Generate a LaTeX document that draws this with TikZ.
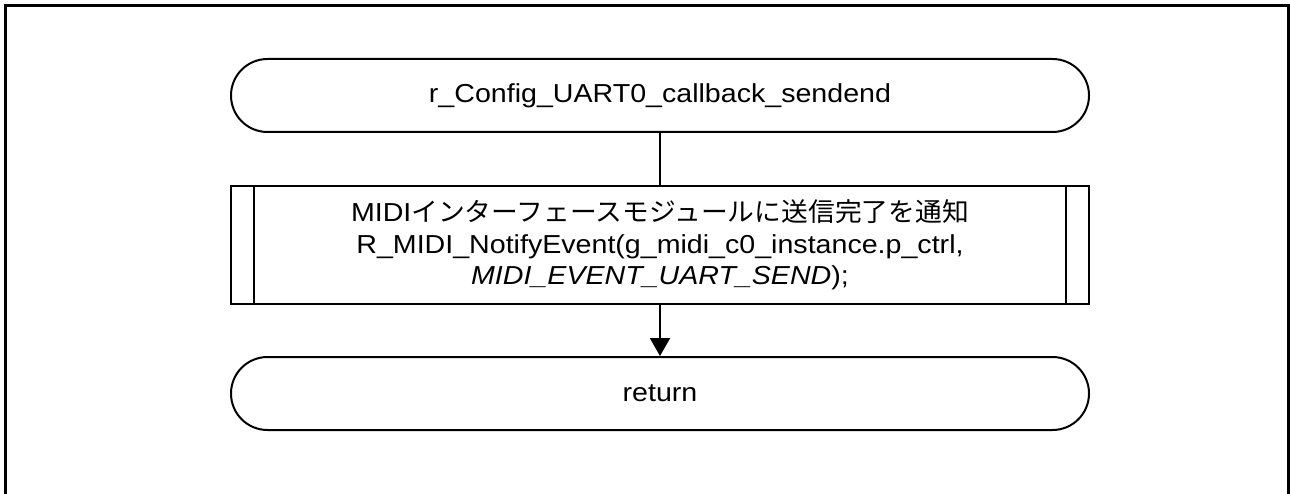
\documentclass[tikz,border=0pt]{standalone}
\usepackage{fontspec}
\setmainfont{Liberation Sans}[FakeStretch=1.1]
\newfontfamily\jpfont{Noto Sans CJK JP}[FakeStretch=1.03]
\usetikzlibrary{arrows.meta}
\tikzset{
  term/.style={draw, line width=2pt, rounded corners=36.5pt, minimum width=858pt, minimum height=73pt, inner sep=0pt, font=\fontsize{26}{31.5}\selectfont},
  procbox/.style={draw, line width=2pt, minimum width=858pt, minimum height=117pt, inner sep=0pt, align=center, font=\fontsize{26}{31.5}\selectfont},
  conn/.style={line width=2pt},
  arr/.style={line width=2pt, -{Triangle[width=20pt,length=18pt]}}
}
\begin{document}
\begin{tikzpicture}[x=1pt,y=-1pt]
\useasboundingbox (0,0) rectangle (1290,494);
\begin{scope}
\clip (0,0) rectangle (1290,494);
\draw[line width=3pt] (5,520) -- (5,6) -- (1288,6) -- (1288,520);
\end{scope}
\node[term] (start) at (660,95.5) {r\_Config\_UART0\_callback\_sendend};
\node[procbox] (proc) at (660,245) {MIDI{\jpfont インターフェースモジュールに送信完了を通知}\\R\_MIDI\_NotifyEvent(g\_midi\_c0\_instance.p\_ctrl,\\\textit{MIDI\_EVENT\_UART\_SEND});};
\draw[conn] ([xshift=24pt]proc.north west) -- ([xshift=24pt]proc.south west);
\draw[conn] ([xshift=-24pt]proc.north east) -- ([xshift=-24pt]proc.south east);
\node[term] (ret) at (660,393.5) {return};
\draw[conn] (start) -- (proc);
\draw[arr] (proc) -- (ret);
\end{tikzpicture}
\end{document}
